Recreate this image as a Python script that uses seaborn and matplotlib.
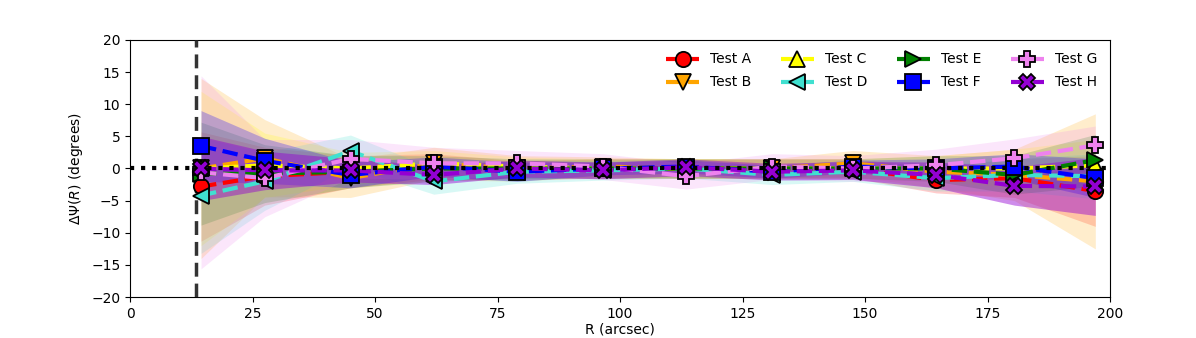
import numpy as np
import pandas as pd
import matplotlib
matplotlib.use('Agg')
import matplotlib.pyplot as plt
from matplotlib.lines import Line2D
import seaborn as sns

# radial bins (arcsec)
radius = [14.5, 27.5, 45, 62, 79, 96.5, 113.5, 131, 147.5, 164.5, 180.5, 197]

# delta psi per test (degrees)
test_a = [-2.8, -1.2, -0.5, 0.3, -0.3, 0.0, 0.0, 0.0, 0.0, -1.8, -1.5, -3.5]
test_b = [0.0, 1.6, -1.5, 0.8, 0.0, 0.3, 0.0, 0.0, 0.8, -0.5, -1.0, -2.0]
test_c = [0.0, 0.5, 0.0, 0.8, 0.3, 0.0, 0.0, 0.0, 0.0, 0.0, 0.0, 0.5]
test_d = [-4.2, -2.0, 2.7, -2.0, -0.5, -0.3, 0.0, -1.0, -0.5, -1.5, -1.0, -1.2]
test_e = [-0.8, -0.8, -0.5, 0.0, 0.0, 0.0, 0.0, 0.0, 0.0, 0.0, -1.0, 1.3]
test_f = [3.5, 1.2, -1.0, 0.3, -0.5, 0.0, 0.3, -0.5, 0.3, 0.0, 0.3, -1.5]
test_g = [-0.6, -1.5, 1.5, 0.8, 0.8, 0.3, -1.2, 0.3, 0.0, 0.5, 1.6, 3.6]
test_h = [0.0, -0.3, -0.3, -1.0, 0.0, -0.3, 0.2, -0.5, -0.3, -1.0, -2.7, -2.8]

# 1-sigma spread per test
err_a = [8.5, 4.5, 2.5, 2.0, 1.5, 1.5, 1.5, 1.5, 1.5, 2.0, 3.0, 5.5]
err_b = [14.0, 6.0, 3.0, 2.5, 2.0, 1.5, 1.5, 1.5, 2.0, 2.5, 4.0, 10.5]
err_c = [12.0, 5.0, 2.5, 2.0, 1.5, 1.5, 1.5, 1.5, 1.5, 2.0, 3.0, 4.0]
err_d = [9.0, 4.5, 2.5, 2.0, 1.8, 1.5, 1.5, 1.5, 1.5, 2.0, 2.5, 3.5]
err_e = [8.0, 4.5, 2.5, 2.0, 1.5, 1.5, 1.5, 1.5, 1.5, 2.0, 3.0, 4.0]
err_f = [5.5, 3.5, 2.0, 1.5, 1.5, 1.0, 1.0, 1.0, 1.0, 1.5, 2.0, 3.0]
err_g = [15.0, 6.0, 3.0, 2.5, 2.0, 2.0, 2.0, 2.0, 2.0, 2.5, 3.0, 3.0]
err_h = [5.0, 3.0, 1.8, 1.5, 1.3, 1.3, 1.3, 1.3, 1.4, 2.0, 3.0, 4.5]

names = ['Test A', 'Test B', 'Test C', 'Test D', 'Test E', 'Test F', 'Test G', 'Test H']
values = [test_a, test_b, test_c, test_d, test_e, test_f, test_g, test_h]
errors = [err_a, err_b, err_c, err_d, err_e, err_f, err_g, err_h]
colors = ['red', 'orange', 'yellow', 'turquoise', 'green', 'blue', 'violet', 'darkviolet']
markers = ['o', 'v', '^', '<', '>', 's', 'P', 'X']
band_alpha = [0.2, 0.2, 0.2, 0.2, 0.2, 0.3, 0.2, 0.45]

rows = []
for name, vals, errs in zip(names, values, errors):
    for r, v, e in zip(radius, vals, errs):
        rows.append({'R': r, 'dpsi': v, 'err': e, 'test': name})
df = pd.DataFrame(rows)

fig = plt.figure(figsize=(11.96, 3.38), dpi=100)
ax = fig.add_axes([0.1087, 0.121, 0.8194, 0.761])

# shaded spread first
for name, color, a in zip(names, colors, band_alpha):
    d = df[df['test'] == name]
    ax.fill_between(d['R'], d['dpsi'] - d['err'], d['dpsi'] + d['err'],
                    color=color, alpha=a, linewidth=0, zorder=1)

# dashed lines
sns.lineplot(data=df, x='R', y='dpsi', hue='test', palette=colors,
             linewidth=3, ax=ax, legend=False, zorder=2, estimator=None)
for line in ax.lines:
    line.set_linestyle((0, (3.7, 1.6)))

ax.axhline(0, color='black', linestyle=':', linewidth=3, zorder=3)
ax.axvline(13.5, color='#333333', linestyle='--', linewidth=2.5, zorder=3,
           dashes=(4, 2))

# markers on top
for name, color, m in zip(names, colors, markers):
    d = df[df['test'] == name]
    ax.plot(d['R'], d['dpsi'], linestyle='none', marker=m, markersize=11,
            markerfacecolor=color, markeredgecolor='black', markeredgewidth=1.3,
            zorder=4)

handles = [Line2D([0], [0], color=c, linestyle='--', linewidth=3, marker=m,
                  markersize=11, markerfacecolor=c, markeredgecolor='black',
                  markeredgewidth=1.3)
           for c, m in zip(colors, markers)]
ax.legend(handles, names, ncol=4, loc='upper right', frameon=False,
          fontsize=10, handlelength=2.4, handletextpad=0.8, columnspacing=2.1,
          borderaxespad=0.5, labelspacing=0.65)

ax.set_xlim(0, 200)
ax.set_ylim(-20, 20)
ax.set_xticks(range(0, 201, 25))
ax.set_yticks(range(-20, 21, 5))
ax.set_xlabel('R (arcsec)', labelpad=1)
ax.set_ylabel(r'$\Delta\Psi(R)$ (degrees)')

fig.savefig('out.png', dpi=100)
